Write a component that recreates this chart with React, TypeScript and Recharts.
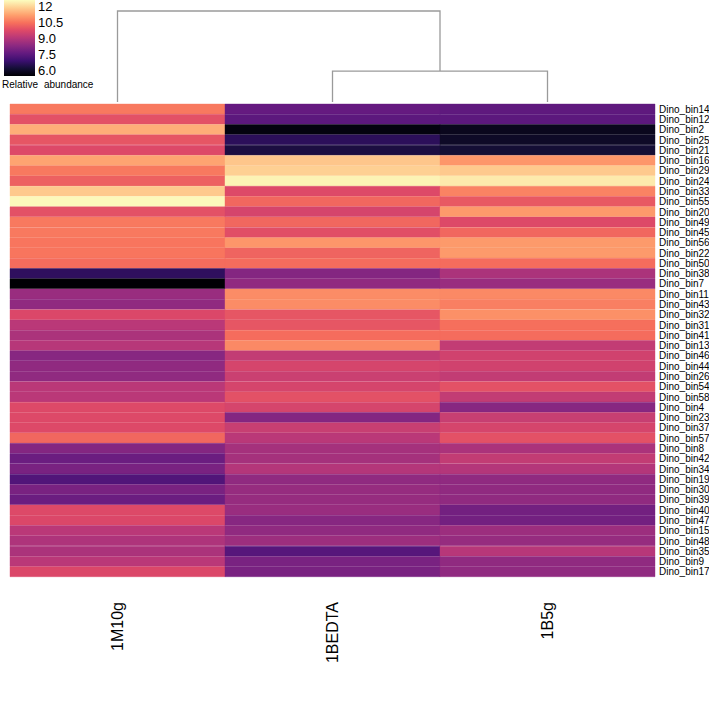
import React from "react";
import { BarChart, Bar, Cell, XAxis, YAxis, LineChart, Line } from "recharts";

const columns = ["1M10g", "1BEDTA", "1B5g"];

const bins = [
  "Dino_bin14", "Dino_bin12", "Dino_bin2", "Dino_bin25", "Dino_bin21", "Dino_bin16",
  "Dino_bin29", "Dino_bin24", "Dino_bin33", "Dino_bin55", "Dino_bin20", "Dino_bin49",
  "Dino_bin45", "Dino_bin56", "Dino_bin22", "Dino_bin50", "Dino_bin38", "Dino_bin7",
  "Dino_bin11", "Dino_bin43", "Dino_bin32", "Dino_bin31", "Dino_bin41", "Dino_bin13",
  "Dino_bin46", "Dino_bin44", "Dino_bin26", "Dino_bin54", "Dino_bin58", "Dino_bin4",
  "Dino_bin23", "Dino_bin37", "Dino_bin57", "Dino_bin8", "Dino_bin42", "Dino_bin34",
  "Dino_bin19", "Dino_bin30", "Dino_bin39", "Dino_bin40", "Dino_bin47", "Dino_bin15",
  "Dino_bin48", "Dino_bin35", "Dino_bin9", "Dino_bin17",
];

const abund1M10g = [
  10.5, 9.8, 11.3, 9.9, 9.65, 11.15, 10.5, 10.1, 11.7, 12.43, 9.8, 10.5,
  10.5, 10.45, 10.45, 10.3, 6.6, 5.4, 8.45, 8.3, 9.6, 9.0, 8.75, 8.95,
  8.15, 8.3, 8.3, 9.0, 9.0, 9.65, 9.65, 9.65, 10.2, 8.1, 7.65, 7.9,
  7.2, 7.9, 7.65, 9.65, 9.6, 9.0, 8.8, 8.75, 9.0, 9.6,
];

const abund1BEDTA = [
  7.55, 7.4, 5.55, 6.55, 6.25, 11.65, 11.8, 12.35, 9.65, 10.2, 9.5, 10.2,
  9.75, 10.95, 10.15, 10.3, 8.1, 8.3, 10.8, 10.8, 9.9, 9.9, 10.3, 10.75,
  9.15, 9.5, 9.3, 9.5, 9.8, 9.5, 8.1, 9.25, 9.0, 8.65, 8.65, 8.9,
  8.3, 8.4, 8.4, 8.45, 8.15, 8.3, 8.5, 7.3, 7.9, 7.9,
];

const abund1B5g = [
  7.45, 7.4, 5.75, 5.9, 6.1, 10.95, 11.7, 12.2, 10.65, 9.95, 11.0, 9.65,
  10.2, 11.0, 11.0, 10.3, 8.75, 8.45, 10.75, 10.6, 10.85, 10.35, 10.3, 9.15,
  9.4, 9.4, 9.15, 9.8, 9.15, 8.15, 9.25, 9.5, 9.8, 8.75, 9.15, 8.9,
  8.3, 8.3, 8.3, 7.8, 7.8, 8.5, 8.4, 8.95, 8.3, 8.3,
];

const legendTicks = [12, 10.5, 9.0, 7.5, 6.0];

// column dendrogram: (1BEDTA, 1B5g) joined first, then 1M10g
const mergeHeights = [3.4, 10];

const VMIN = 5.4;
const VMAX = 12.5;

const magma = [
  "#000004", "#140e36", "#3b0f70", "#641a80", "#8c2981", "#b73779",
  "#de4968", "#f7705c", "#fe9f6d", "#fecf92", "#fcfdbf",
];

const hex = (h: string) => [1, 3, 5].map((i) => parseInt(h.slice(i, i + 2), 16));

function colorFor(v: number) {
  const t = Math.max(0, Math.min(1, (v - VMIN) / (VMAX - VMIN))) * (magma.length - 1);
  const i = Math.min(Math.floor(t), magma.length - 2);
  const f = t - i;
  const a = hex(magma[i]);
  const b = hex(magma[i + 1]);
  const c = a.map((x, k) => Math.round(x + (b[k] - x) * f));
  return `rgb(${c[0]},${c[1]},${c[2]})`;
}

const series = [abund1M10g, abund1BEDTA, abund1B5g];
const rows = bins.map((name) => ({ name, c0: 1, c1: 1, c2: 1 }));

const leafPos = columns.map((_, i) => i + 0.5);
const innerMid = (leafPos[1] + leafPos[2]) / 2;
const lowerLink = [
  { x: leafPos[1], h: 0 },
  { x: leafPos[1], h: mergeHeights[0] },
  { x: leafPos[2], h: mergeHeights[0] },
  { x: leafPos[2], h: 0 },
];
const upperLink = [
  { x: leafPos[0], h: 0 },
  { x: leafPos[0], h: mergeHeights[1] },
  { x: innerMid, h: mergeHeights[1] },
  { x: innerMid, h: mergeHeights[0] },
];

const FONT = "'Liberation Sans', Arial, sans-serif";

const ColTick = ({ x, y, payload }: { x?: number; y?: number; payload?: { value: number } }) => (
  <text
    x={0}
    y={0}
    transform={`translate(${x},${(y ?? 0) + 25}) rotate(-90)`}
    textAnchor="end"
    dy="0.35em"
    fontSize={16}
    fill="#000"
    fontFamily={FONT}
  >
    {columns[Math.floor(payload?.value ?? 0)]}
  </text>
);

const BAR_H = 76;
const legendY = (v: number) => (BAR_H * (VMAX - v)) / (VMAX - VMIN);

export default function App() {
  return (
    <div style={{ position: "absolute", left: 0, top: 0, width: 709, height: 709, background: "#fff", fontFamily: FONT }}>
      <div style={{ position: "absolute", left: 0, top: 0 }}>
        <BarChart
          width={709}
          height={709}
          data={rows}
          layout="vertical"
          barCategoryGap={0}
          barGap={0}
          margin={{ top: 104, right: 0, left: 10, bottom: 0 }}
        >
          <XAxis
            type="number"
            domain={[0, 3]}
            ticks={leafPos}
            height={132}
            axisLine={false}
            tickLine={false}
            tickSize={0}
            tickMargin={0}
            tick={<ColTick />}
            interval={0}
          />
          <YAxis
            type="category"
            dataKey="name"
            orientation="right"
            width={54}
            axisLine={false}
            tickLine={false}
            tickSize={2}
            tickMargin={2}
            interval={0}
            tick={{ fontSize: 10, fill: "#000" }}
          />
          {series.map((vals, ci) => (
            <Bar key={ci} dataKey={`c${ci}`} stackId="h" isAnimationActive={false}>
              {vals.map((v, ri) => (
                <Cell key={ri} fill={colorFor(v)} stroke={colorFor(v)} strokeWidth={0.4} />
              ))}
            </Bar>
          ))}
        </BarChart>
      </div>

      <div style={{ position: "absolute", left: 0, top: 0 }}>
        <LineChart width={709} height={104} margin={{ top: 11, right: 54, left: 10, bottom: 2 }}>
          <XAxis type="number" dataKey="x" domain={[0, 3]} hide />
          <YAxis type="number" domain={[0, mergeHeights[1]]} hide />
          <Line data={lowerLink} dataKey="h" type="linear" stroke="#9a9a9a" strokeWidth={1.3} dot={false} isAnimationActive={false} />
          <Line data={upperLink} dataKey="h" type="linear" stroke="#9a9a9a" strokeWidth={1.3} dot={false} isAnimationActive={false} />
        </LineChart>
      </div>

      <svg style={{ position: "absolute", left: 0, top: 0 }} width={130} height={100}>
        <defs>
          <linearGradient id="magma-bar" x1="0" y1="1" x2="0" y2="0">
            {magma.map((c, i) => (
              <stop key={c} offset={`${(i / (magma.length - 1)) * 100}%`} stopColor={c} />
            ))}
          </linearGradient>
        </defs>
        <rect x={4} y={0} width={31} height={BAR_H} fill="url(#magma-bar)" />
        {legendTicks.map((v) => (
          <text key={v} x={38} y={legendY(v) + 1.2} dy="0.35em" fontSize={13} fill="#000" fontFamily={FONT}>
            {v.toFixed(v === 12 ? 0 : 1)}
          </text>
        ))}
        <text x={2} y={88} fontSize={10} fill="#000" fontFamily={FONT} style={{ wordSpacing: 3 }}>
          Relative abundance
        </text>
      </svg>
    </div>
  );
}
